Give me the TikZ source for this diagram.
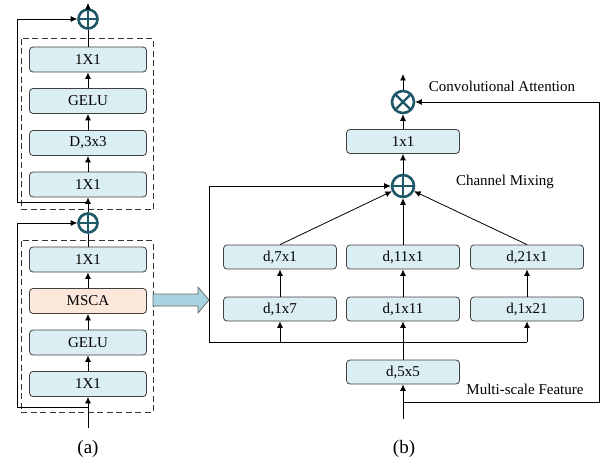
\documentclass[tikz,border=0pt]{standalone}
\usepackage{fontspec}
\setmainfont{Liberation Serif}
\usepackage{tikz}
\usetikzlibrary{calc,arrows.meta}
\definecolor{boxblue}{RGB}{218,238,243}
\definecolor{boxpeach}{RGB}{252,232,218}
\definecolor{opteal}{RGB}{30,88,104}
\definecolor{arrowblue}{RGB}{168,212,225}

\begin{document}
\begin{tikzpicture}[
        x = 1pt, y = -1pt,
        >= {Latex[length=6.5pt,width=6pt]},
        font = \fontsize{15}{18}\selectfont,
        line width = 0.8pt,
        layer/.style = {draw = black!75, rounded corners = 3.5pt, fill = boxblue,
            minimum width = 117pt, minimum height = 25pt, inner sep = 0pt},
        dwconv/.style = {layer, minimum width = 113pt, minimum height = 24pt},
        addop/.style = {circle, draw = opteal, line width = 2.6pt, fill = white,
            minimum size = 19pt, inner sep = 0pt,
            path picture = {\draw[opteal, line width = 2.4pt]
                (path picture bounding box.north) -- (path picture bounding box.south)
                (path picture bounding box.west) -- (path picture bounding box.east);}},
        mulop/.style = {addop, minimum size = 22pt,
            path picture = {\draw[opteal, line width = 2.4pt]
                (path picture bounding box.north west) -- (path picture bounding box.south east)
                (path picture bounding box.south west) -- (path picture bounding box.north east);}},
        block/.style = {draw = black!80, dash pattern = on 6pt off 3.5pt, line width = 1pt},
        caption/.style = {font = \fontsize{19}{22}\selectfont}
    ]
        \useasboundingbox (0,0) rectangle (605,465);

        % (a) two residual blocks
        \draw [block] (21,39) rectangle (153,210);
        \draw [block] (21,241) rectangle (153,412);
        \node [addop] (add1) at (88,19) {};
        \node [layer] (b1) at (88,59.5) {1X1};
        \node [layer] (b2) at (88,101) {GELU};
        \node [layer] (b3) at (88,143) {D,3x3};
        \node [layer] (b4) at (88,184.5) {1X1};
        \node [addop] (add2) at (88,223) {};
        \node [layer] (c1) at (88,259.5) {1X1};
        \node [layer, fill = boxpeach] (c2) at (88,301) {MSCA};
        \node [layer] (c3) at (88,342.5) {GELU};
        \node [layer] (c4) at (88,384) {1X1};
        \coordinate (ain) at (88,428);
        \coordinate (aout) at (88,3);
        \node [caption] (la) at (88,449) {(a)};

        \draw [->] (ain)--(c4);
        \draw [->] (c4)--(c3);
        \draw [->] (c3)--(c2);
        \draw [->] (c2)--(c1);
        \draw (c1)--(add2);
        \draw [->] (add2)--(b4);
        \draw [->] (b4)--(b3);
        \draw [->] (b3)--(b2);
        \draw [->] (b2)--(b1);
        \draw (b1)--(add1);
        \draw [->] (add1)--(aout);
        \draw [->] (88,407)--(17,407)--(17,223)--(add2);
        \draw [->] (88,202)--(17,202)--(17,19)--(add1);

        % link arrow
        \draw [fill = arrowblue, draw = black!60, line width = 0.7pt]
            (153,294)--(198,294)--(198,287)--(209,300)--(198,313)--(198,306)--(153,306)--cycle;

        % (b) MSCA
        \node [mulop] (mul) at (403,102) {};
        \node [dwconv] (k1) at (403,141.5) {1x1};
        \node [addop, minimum size = 22pt] (add3) at (403,186) {};
        \node [dwconv] (e1) at (280,257) {d,7x1};
        \node [dwconv] (e2) at (403,257) {d,11x1};
        \node [dwconv] (e3) at (527,257) {d,21x1};
        \node [dwconv] (f1) at (280,309) {d,1x7};
        \node [dwconv] (f2) at (403,309) {d,1x11};
        \node [dwconv] (f3) at (527,309) {d,1x21};
        \node [dwconv] (g) at (403,372) {d,5x5};
        \coordinate (bin) at (403,419);
        \coordinate (bout) at (403,74);
        \coordinate (fork) at (403,342);
        \node [caption] (lb) at (404,449) {(b)};

        \node (attn) at (502,86) {Convolutional Attention};
        \node (mix) at (505,182) {Channel Mixing};
        \node (feat) at (525,389) {Multi-scale Feature};

        \draw [->] (bin)--(g);
        \draw [->] (g)--(f2);
        \draw [->] (f2)--(e2);
        \draw [->] (f1)--(e1);
        \draw [->] (f3)--(e3);
        \draw [->] (fork-|f1)--(f1);
        \draw [->] (fork-|f3)--(f3);
        \draw (209,342)--(fork-|f3);
        \draw [->] (209,342)--(209,186)--(add3);
        \draw [->] (e1.north)--(add3);
        \draw [->] (e2)--(add3);
        \draw [->] (e3.north)--(add3);
        \draw [->] (add3)--(k1);
        \draw [->] (k1)--(mul);
        \draw [->] (mul)--(bout);
        \draw [->] (403,402)--(599,402)--(599,102)--(mul);
        \end{tikzpicture}
\end{document}
